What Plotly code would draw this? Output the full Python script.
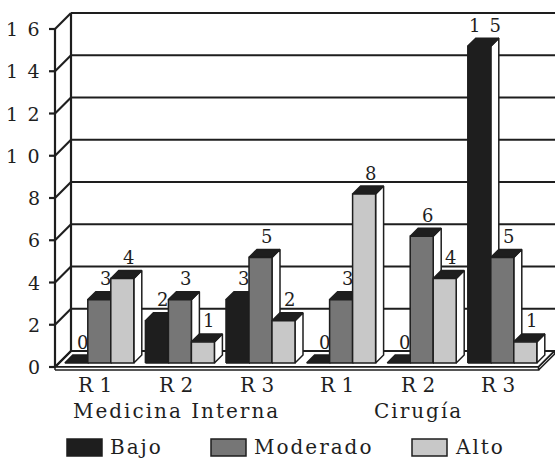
import plotly.graph_objects as go

# ---- data -------------------------------------------------------------
categories = ["R 1", "R 2", "R 3", "R 1", "R 2", "R 3"]
groups = ["Medicina Interna", "Cirugía"]
group_spans = [(0, 2), (3, 5)]
series = ["Bajo", "Moderado", "Alto"]
bajo = [0, 2, 3, 0, 0, 15]
moderado = [3, 3, 5, 3, 6, 5]
alto = [4, 1, 2, 8, 4, 1]
y_ticks = [0, 2, 4, 6, 8, 10, 12, 14, 16]

values = [bajo, moderado, alto]
colors = ["#1e1e1e", "#767676", "#c8c8c8"]
INK = "#1e1e1e"
FONT = "DejaVu Serif"

# ---- canvas / scale -----------------------------------------------------
W, H = 555, 459
ML, MR, MT, MB = 45, 0, 8, 86
PX_X = 80.6      # pixels per category band
PX_Y = 21.125    # pixels per value unit
AXIS_X_PX = 55   # front vertical axis
AXIS_Y_PX = 367  # front floor edge

x_lo = -0.5 - (AXIS_X_PX - ML) / PX_X
x_hi = x_lo + (W - ML - MR) / PX_X
y_lo = -((H - MB) - AXIS_Y_PX) / PX_Y
y_hi = y_lo + (H - MT - MB) / PX_Y

# 3-D depth offsets (walls and bars), expressed in axis units
WDX, WDY = 16 / PX_X, 16 / PX_Y
BFX, BFY = 4 / PX_X, 4 / PX_Y      # bar front plane
BDX, BDY = 8 / PX_X, 8 / PX_Y      # bar depth
BAR_W = 23 / PX_X
N = len(categories)
X_L, X_R = -0.5, N - 0.5
Y_TOP = max(y_ticks)


def num(v):
    """Digits set apart, the way the value labels are printed."""
    return "\u2002".join(str(v))


def tracked(s):
    """Slightly letter-spaced text."""
    return "\u200a".join(s)


fig = go.Figure()


def poly(xs, ys, fill, lw=1.5, color=INK):
    fig.add_trace(go.Scatter(
        x=list(xs) + [xs[0]], y=list(ys) + [ys[0]], mode="lines",
        fill="toself", fillcolor=fill, line=dict(color=color, width=lw),
        hoverinfo="skip", showlegend=False))


def lines(segs, lw=2.0):
    xs, ys = [], []
    for (xa, ya), (xb, yb) in segs:
        xs += [xa, xb, None]
        ys += [ya, yb, None]
    fig.add_trace(go.Scatter(x=xs, y=ys, mode="lines",
                             line=dict(color=INK, width=lw),
                             hoverinfo="skip", showlegend=False))


# floor slab
slab = 3 / PX_Y
poly([X_L, X_R, X_R + WDX, X_L + WDX], [0, 0, WDY, WDY], "white", lw=2)
poly([X_L, X_R, X_R, X_L], [-slab, -slab, 0, 0], "white", lw=1.5)
poly([X_R, X_R + WDX, X_R + WDX, X_R], [-slab, WDY - slab, WDY, 0], "white", lw=1.5)

# back wall gridlines and side wall
segs = []
for t in y_ticks:
    segs.append(((X_L + WDX, t + WDY), (x_hi, t + WDY)))
    segs.append(((X_L, t), (X_L + WDX, t + WDY)))
    segs.append(((X_L - 6 / PX_X, t), (X_L, t)))
segs.append(((X_L, 0), (X_L, Y_TOP)))
segs.append(((X_L + WDX, WDY), (X_L + WDX, Y_TOP + WDY)))
lines(segs, lw=2.2)

# 3-D bars, painted left to right
annotations = []
for i in range(N):
    for k in range(3):
        v = values[k][i]
        x0 = i - 1.5 * BAR_W + k * BAR_W + BFX
        x1 = x0 + BAR_W
        yb = BFY
        yt = yb + v
        poly([x1, x1, x1 + BDX, x1 + BDX], [yb, yt, yt + BDY, yb + BDY], "white")
        poly([x0, x1, x1 + BDX, x0 + BDX], [yt, yt, yt + BDY, yt + BDY], INK)
        if v > 0:
            poly([x0, x1, x1, x0], [yb, yb, yt, yt], colors[k])
        annotations.append(dict(
            x=(x0 + x1) / 2 + BDX * 0.75, y=yt + BDY, xref="x", yref="y",
            text=num(v), showarrow=False, yanchor="middle", yshift=13,
            font=dict(family=FONT, size=18, color=INK)))

# value axis labels
for t in y_ticks:
    annotations.append(dict(
        x=X_L, y=t, xref="x", yref="y", text=num(t), showarrow=False,
        xanchor="right", yanchor="middle", xshift=-13,
        font=dict(family=FONT, size=19, color=INK)))

# category labels (two levels)
for i, c in enumerate(categories):
    annotations.append(dict(
        x=i, y=0, xref="x", yref="y", text=c, showarrow=False,
        yanchor="middle", yshift=-18,
        font=dict(family=FONT, size=20, color=INK)))
for g, (a, b) in zip(groups, group_spans):
    annotations.append(dict(
        x=(a + b) / 2, y=0, xref="x", yref="y", text=tracked(g), showarrow=False,
        yanchor="middle", yshift=-44,
        font=dict(family=FONT, size=20, color=INK)))


# legend drawn as boxes + labels
def px(xp, yp):
    return (xp - ML) / (W - ML - MR), ((H - MB) - yp) / (H - MT - MB)


shapes = []
legend_boxes = [67, 211, 412]
for name, col, bx in zip(series, colors, legend_boxes):
    xa, ya = px(bx, 439)
    xb, yb = px(bx + 35, 456)
    shapes.append(dict(type="rect", xref="paper", yref="paper",
                       x0=xa, x1=xb, y0=yb, y1=ya, fillcolor=col,
                       line=dict(color=INK, width=1.5)))
    tx, ty = px(bx + 41, 447.5)
    annotations.append(dict(
        x=tx, y=ty, xref="paper", yref="paper", text=tracked(name), showarrow=False,
        xanchor="left", yanchor="middle",
        font=dict(family=FONT, size=20, color=INK)))

fig.update_layout(
    width=W, height=H, margin=dict(l=ML, r=MR, t=MT, b=MB),
    paper_bgcolor="white", plot_bgcolor="white",
    xaxis=dict(range=[x_lo, x_hi], visible=False, fixedrange=True),
    yaxis=dict(range=[y_lo, y_hi], visible=False, fixedrange=True),
    annotations=annotations, shapes=shapes, showlegend=False,
)

fig.write_html("out.html")
